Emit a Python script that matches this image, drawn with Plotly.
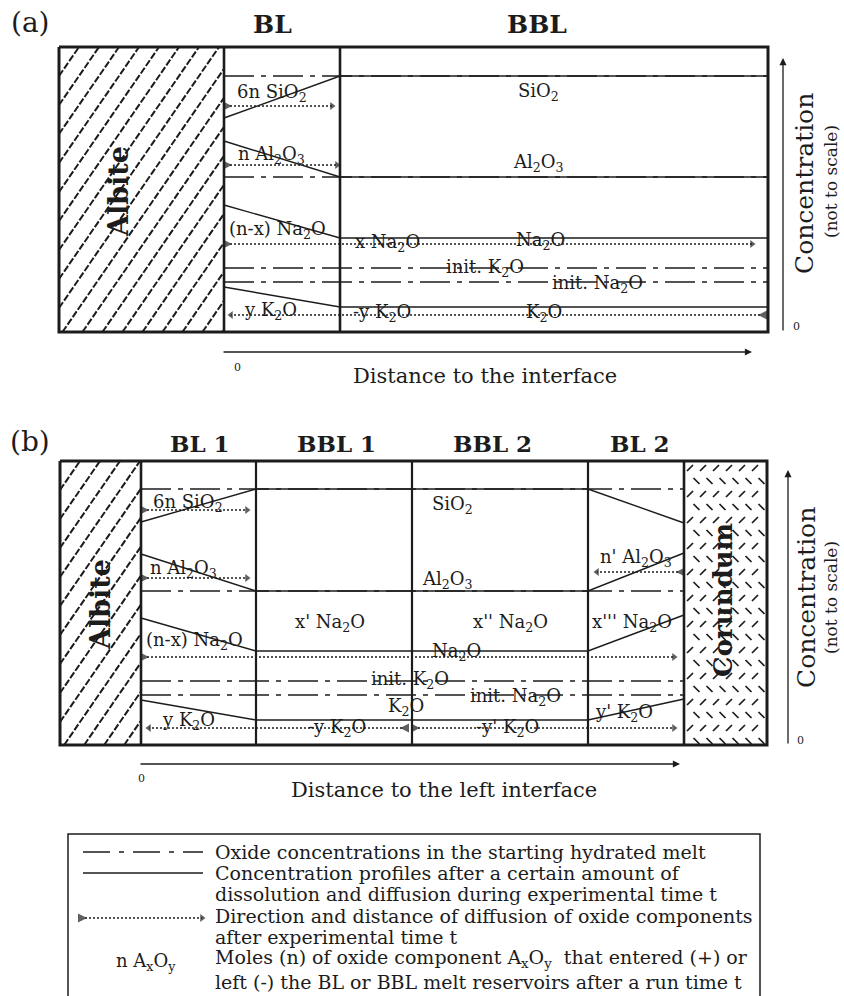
import plotly.graph_objects as go

W, H = 844, 996
INK = "#1c1c1c"
SERIF = "DejaVu Serif, Liberation Serif, serif"

# ---------------- data (schematic positions, px) ----------------
OXIDES = ["SiO2", "Al2O3", "Na2O", "K2O"]

# panel (a): albite | BL | BBL
A_COLS = [59, 224, 340, 768]
A_ROWS = [47, 332]
A_INIT = [76, 177, 282, 268]      # starting melt levels
A_IFACE = [118, 141, 205, 287]    # level at albite interface
A_BBL = [76, 177, 238, 307]       # level in BBL

# panel (b): albite | BL1 | BBL1 | BBL2 | BL2 | corundum
B_COLS = [60, 141, 256, 412, 588, 684, 767]
B_ROWS = [461, 745]
B_INIT = [489, 591, 695, 681]
B_LEFT = [522, 554, 618, 700]
B_BBL = [489, 591, 651, 720]
B_RIGHT = [523, 553, 615, 699]

# diffusion arrows (tail x, head x, y)
A_ARR_X0 = [230, 230, 230, 760]
A_ARR_X1 = [335, 340, 755, 228]
A_ARR_Y = [106, 165, 244, 315]
B_ARR_X0 = [147, 147, 678, 147, 402, 418]
B_ARR_X1 = [250, 250, 594, 677, 146, 677]
B_ARR_Y = [510, 578, 572, 657, 728, 728]

A_LABELS = ["6n SiO<sub>2</sub>", "n Al<sub>2</sub>O<sub>3</sub>", "SiO<sub>2</sub>", "Al<sub>2</sub>O<sub>3</sub>",
            "(n-x) Na<sub>2</sub>O", "x Na<sub>2</sub>O", "Na<sub>2</sub>O", "init. K<sub>2</sub>O",
            "init. Na<sub>2</sub>O", "y K<sub>2</sub>O", "-y K<sub>2</sub>O", "K<sub>2</sub>O"]
A_LAB_X = [272, 271, 538, 538, 277, 387, 540, 485, 597, 270, 382, 544]
A_LAB_Y = [93, 155, 92, 163, 230, 243, 241, 268, 284, 311, 313, 313]

B_LABELS = ["6n SiO<sub>2</sub>", "n Al<sub>2</sub>O<sub>3</sub>", "SiO<sub>2</sub>", "Al<sub>2</sub>O<sub>3</sub>",
            "n' Al<sub>2</sub>O<sub>3</sub>", "(n-x) Na<sub>2</sub>O", "x' Na<sub>2</sub>O", "x'' Na<sub>2</sub>O",
            "x''' Na<sub>2</sub>O", "Na<sub>2</sub>O", "init. K<sub>2</sub>O", "init. Na<sub>2</sub>O",
            "K<sub>2</sub>O", "y K<sub>2</sub>O", "-y K<sub>2</sub>O", "-y' K<sub>2</sub>O", "y' K<sub>2</sub>O"]
B_LAB_X = [188, 183, 452, 447, 636, 194, 330, 510, 632, 456, 410, 515, 406, 188, 337, 507, 624]
B_LAB_Y = [503, 569, 505, 580, 558, 641, 623, 623, 623, 652, 680, 697, 707, 721, 728, 728, 713]

TITLES = ["(a)", "BL", "BBL", "(b)", "BL 1", "BBL 1", "BBL 2", "BL 2"]
TITLE_X = [30, 272, 537, 30, 200, 336, 492, 640]
TITLE_Y = [22, 24, 24, 441, 443, 443, 443, 443]

LEGEND_TEXT = [
    "Oxide concentrations in the starting hydrated melt",
    "Concentration profiles after a certain amount of",
    "dissolution and diffusion during experimental time t",
    "Direction and distance of diffusion of oxide components",
    "after experimental time t",
    "Moles (n) of oxide component A<sub>x</sub>O<sub>y</sub>  that entered (+) or",
    "left (-) the BL or BBL melt reservoirs after a run time t",
]
LEGEND_Y = [852, 873, 894, 916, 937, 958, 982]

DASHDOT = "30px,7px,5px,7px"

fig = go.Figure()


def line(xs, ys, width=1.4, dash="solid", color=INK):
    fig.add_trace(go.Scatter(x=xs, y=ys, mode="lines",
                             line=dict(color=color, width=width, dash=dash),
                             hoverinfo="skip", showlegend=False))


def dotted_arrow(x0, x1, y):
    d = 1 if x1 > x0 else -1
    line([x0, x1 - 3 * d], [y, y], width=1.3, dash="2px,2px")
    fig.add_trace(go.Scatter(
        x=[x1 - 3 * d, x0 + 2 * d], y=[y, y], mode="markers",
        marker=dict(symbol=["triangle-right" if d > 0 else "triangle-left",
                            "arrow-right" if d > 0 else "arrow-left"],
                    size=[7, 9], color=INK, line=dict(width=0)),
        hoverinfo="skip", showlegend=False))


def label(text, x, y, size=18, bold=False, angle=0, xanchor="center"):
    if bold:
        text = "<b>" + text + "</b>"
    text = "<span style='color:%s'>%s</span>" % (INK, text)
    fig.add_annotation(x=x, y=y, xref="x", yref="y", text=text, showarrow=False,
                       textangle=angle, xanchor=xanchor, yanchor="middle",
                       font=dict(family=SERIF, size=size, color=INK))


def axis_arrow(x0, y0, x1, y1):
    fig.add_annotation(x=x1, y=y1, ax=x0, ay=y0, xref="x", yref="y", axref="x", ayref="y",
                       text="", showarrow=True, arrowhead=2, arrowsize=1.1,
                       arrowwidth=1.3, arrowcolor=INK)


def hatch(x0, x1, y0, y1, step=20, slope=1.45):
    xs, ys = [], []
    span = (y1 - y0) / slope
    c = x0 - span
    while c < x1:
        a = max(x0, c)
        b = min(x1, c + span)
        if b > a:
            xs += [a, b, None]
            ys += [y1 - slope * (a - c), y1 - slope * (b - c), None]
        c += step
    line(xs, ys, width=2.0, dash="7px,2px")


def speckle(x0, x1, y0, y1, step=13):
    px, py, sym = [], [], []
    r = 0
    y = y0 + 7
    while y < y1 - 3:
        off = 0 if r % 2 == 0 else step / 2
        x = x0 + 6 + off
        while x < x1 - 3:
            px.append(x)
            py.append(y)
            sym.append("line-ne" if r % 2 == 0 else "line-nw")
            x += step
        y += step
        r += 1
    fig.add_trace(go.Scatter(x=px, y=py, mode="markers",
                             marker=dict(symbol=sym, size=6, color=INK,
                                         line=dict(color=INK, width=1.7)),
                             hoverinfo="skip", showlegend=False))


# ---------------- panel (a) ----------------
hatch(A_COLS[0], A_COLS[1], A_ROWS[0], A_ROWS[1])
for i in range(len(OXIDES)):
    line([A_COLS[1], A_COLS[3]], [A_INIT[i], A_INIT[i]], width=1.3, dash=DASHDOT)
for i in range(len(OXIDES)):
    line([A_COLS[1], A_COLS[2], A_COLS[3]], [A_IFACE[i], A_BBL[i], A_BBL[i]], width=1.4)
for x0, x1, y in zip(A_ARR_X0, A_ARR_X1, A_ARR_Y):
    dotted_arrow(x0, x1, y)
line([A_COLS[0], A_COLS[3], A_COLS[3], A_COLS[0], A_COLS[0]],
     [A_ROWS[0], A_ROWS[0], A_ROWS[1], A_ROWS[1], A_ROWS[0]], width=3)
for xc in A_COLS[1:3]:
    line([xc, xc], A_ROWS, width=2.6)
for t, x, y in zip(A_LABELS, A_LAB_X, A_LAB_Y):
    label(t, x, y, size=18)
label("Albite", 118, 192, size=27, bold=True, angle=-90)

axis_arrow(783, 332, 783, 58)
axis_arrow(222, 352, 752, 352)
label("0", 796, 326, size=11)
label("0", 237, 367, size=11)
label("Concentration", 804, 184, size=25, angle=-90)
label("(not to scale)", 831, 182, size=17, angle=-90)
label("Distance to the interface", 485, 376, size=21)

# ---------------- panel (b) ----------------
hatch(B_COLS[0], B_COLS[1], B_ROWS[0], B_ROWS[1])
speckle(B_COLS[5], B_COLS[6], B_ROWS[0], B_ROWS[1])
for i in range(len(OXIDES)):
    line([B_COLS[1], B_COLS[5]], [B_INIT[i], B_INIT[i]], width=1.3, dash=DASHDOT)
for i in range(len(OXIDES)):
    line([B_COLS[1], B_COLS[2], B_COLS[4], B_COLS[5]],
         [B_LEFT[i], B_BBL[i], B_BBL[i], B_RIGHT[i]], width=1.4)
for x0, x1, y in zip(B_ARR_X0, B_ARR_X1, B_ARR_Y):
    dotted_arrow(x0, x1, y)
line([B_COLS[0], B_COLS[6], B_COLS[6], B_COLS[0], B_COLS[0]],
     [B_ROWS[0], B_ROWS[0], B_ROWS[1], B_ROWS[1], B_ROWS[0]], width=3)
for xc in B_COLS[1:6]:
    line([xc, xc], B_ROWS, width=2.6 if xc in (B_COLS[1], B_COLS[5]) else 2.2)
for t, x, y in zip(B_LABELS, B_LAB_X, B_LAB_Y):
    label(t, x, y, size=18)
label("Albite", 100, 605, size=27, bold=True, angle=-90)
label("Corundum", 723, 600, size=26, bold=True, angle=-90)

axis_arrow(788, 745, 788, 470)
axis_arrow(139, 764, 680, 764)
label("0", 800, 740, size=11)
label("0", 141, 778, size=11)
label("Concentration", 806, 598, size=25, angle=-90)
label("(not to scale)", 831, 598, size=17, angle=-90)
label("Distance to the left interface", 444, 790, size=21)

# ---------------- titles ----------------
for i, (t, x, y) in enumerate(zip(TITLES, TITLE_X, TITLE_Y)):
    if t.startswith("("):
        label(t, x, y, size=28)
    else:
        label(t, x, y, size=25 if i < 3 else 23, bold=True)

# ---------------- legend ----------------
line([68, 68, 760, 760], [996, 834, 834, 996], width=1.5)
line([83, 203], [852, 852], width=1.3, dash="27px,9px,5px,9px")
line([83, 203], [873, 873], width=1.4)
dotted_arrow(85, 205, 918)
label("n A<sub>x</sub>O<sub>y</sub>", 146, 962, size=18)
for t, y in zip(LEGEND_TEXT, LEGEND_Y):
    label(t, 213, y, size=19, xanchor="left")

fig.update_layout(
    width=W, height=H, margin=dict(l=0, r=0, t=0, b=0),
    paper_bgcolor="white", plot_bgcolor="white",
    xaxis=dict(range=[0, W], visible=False, fixedrange=True),
    yaxis=dict(range=[H, 0], visible=False, fixedrange=True),
    showlegend=False,
)
fig.write_html("out.html")
